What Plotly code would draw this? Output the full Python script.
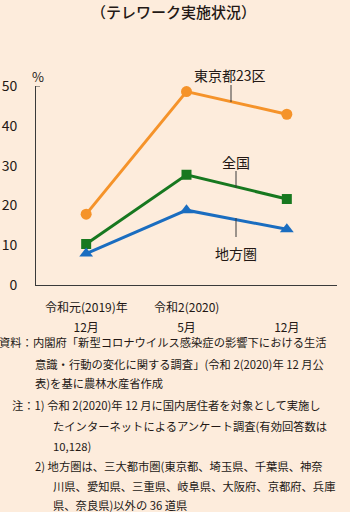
import plotly.graph_objects as go

# Survey points and telework rates (%)
periods = ["2019-12", "2020-05", "2020-12"]
era_labels = ["令和元(2019)年", "令和2(2020)", ""]
month_labels = ["12月", "5月", "12月"]
tokyo23 = [17.8, 48.6, 42.9]
national = [10.3, 27.7, 21.6]
regional = [7.9, 18.8, 14.0]
y_ticks = [0, 10, 20, 30, 40, 50]

series_names = ["東京都23区", "全国", "地方圏"]

title_text = "（テレワーク実施状況）"
notes = [
    "資料：内閣府「新型コロナウイルス感染症の影響下における生活",
    "意識・行動の変化に関する調査」(令和 2(2020)年 12 月公",
    "表)を基に農林水産省作成",
    "注：1) 令和 2(2020)年 12 月に国内居住者を対象として実施し",
    "たインターネットによるアンケート調査(有効回答数は",
    "10,128)",
    "2) 地方圏は、三大都市圏(東京都、埼玉県、千葉県、神奈",
    "川県、愛知県、三重県、岐阜県、大阪府、京都府、兵庫",
    "県、奈良県)以外の 36 道県",
]

W, H = 350, 512
ML, MR, MT, MB = 36, 13, 86, 227
PW, PH = W - ML - MR, H - MT - MB

FONT = "Noto Sans CJK JP, Noto Sans, sans-serif"
TXT = "#231815"
BG = "#FDECDC"
ORANGE = "#F5932A"
GREEN = "#17781F"
BLUE = "#1A6DC0"


def px(x):
    return (x - ML) / PW


def py(y):
    return (H - MB - y) / PH


fig = go.Figure()

styles = [
    (tokyo23, ORANGE, "circle", 11),
    (national, GREEN, "square", 10),
    (regional, BLUE, "triangle-up", 12),
]
for name, (vals, col, sym, size) in zip(series_names, styles):
    fig.add_trace(go.Scatter(
        x=periods, y=vals, name=name, mode="lines+markers",
        line=dict(color=col, width=3),
        marker=dict(symbol=sym, size=size, color=col),
        cliponaxis=False, showlegend=False, hoverinfo="skip",
    ))

annotations = []

# Title
annotations.append(dict(
    text=title_text, x=px(173), y=py(12), xref="paper", yref="paper",
    xanchor="center", yanchor="middle", showarrow=False,
    font=dict(size=15, color=TXT, family=FONT, weight=500),
))

# Unit label
annotations.append(dict(
    text="%", x=px(38), y=py(76), xref="paper", yref="paper",
    xanchor="center", yanchor="middle", showarrow=False,
    font=dict(size=13, color=TXT, family=FONT),
))

# Era row under the x axis
for p, lab in zip(periods, era_labels):
    if lab:
        annotations.append(dict(
            text=lab, x=p, y=py(306), xref="x", yref="paper",
            xanchor="center", yanchor="middle", showarrow=False,
            font=dict(size=12, color=TXT, family=FONT),
        ))

# Series labels with leader lines
label_pos = [
    (230, 75, 231, 85, 102),
    (236, 162, 236, 171, 188),
    (236, 253, 236, 218, 237),
]
shapes = []
for name, (lx, ly, sx, sy0, sy1) in zip(series_names, label_pos):
    annotations.append(dict(
        text=name, x=px(lx), y=py(ly), xref="paper", yref="paper",
        xanchor="center", yanchor="middle", showarrow=False,
        font=dict(size=14, color=TXT, family=FONT),
    ))
    shapes.append(dict(
        type="line", xref="paper", yref="paper",
        x0=px(sx), x1=px(sx), y0=py(sy0), y1=py(sy1),
        line=dict(color="#3a3a3a", width=1),
    ))

# Cap tick at the top of the y axis
shapes.append(dict(
    type="line", xref="paper", yref="y",
    x0=0, x1=px(40), y0=50, y1=50,
    line=dict(color="#3a3a3a", width=1),
))

# Source and notes
note_pos = [
    (-3, 342), (33, 364), (33, 383), (10, 405), (51, 426),
    (51, 446), (33, 466), (51, 486), (51, 505),
]
for line, (nx, ny) in zip(notes, note_pos):
    annotations.append(dict(
        text=line, x=px(nx), y=py(ny), xref="paper", yref="paper",
        xanchor="left", yanchor="middle", showarrow=False,
        font=dict(size=11.3, color=TXT, family=FONT),
    ))

fig.update_layout(
    width=W, height=H,
    margin=dict(l=ML, r=MR, t=MT, b=MB, autoexpand=False),
    paper_bgcolor=BG, plot_bgcolor=BG,
    font=dict(family=FONT, color=TXT),
    annotations=annotations, shapes=shapes,
)

fig.update_xaxes(
    type="category", range=[-0.5, 2.5],
    tickvals=periods, ticktext=month_labels,
    showgrid=False, zeroline=False, ticks="",
    showline=True, linecolor="#3a3a3a", linewidth=1,
    tickfont=dict(size=12, color=TXT, family=FONT),
    ticklabelstandoff=32,
)
fig.update_yaxes(
    range=[0, 50], tickvals=y_ticks,
    showgrid=False, zeroline=False,
    ticks="outside", ticklen=15, tickcolor="rgba(0,0,0,0)",
    showline=True, linecolor="#3a3a3a", linewidth=1,
    tickfont=dict(size=14, color=TXT, family=FONT),
)

fig.write_html("out.html")
